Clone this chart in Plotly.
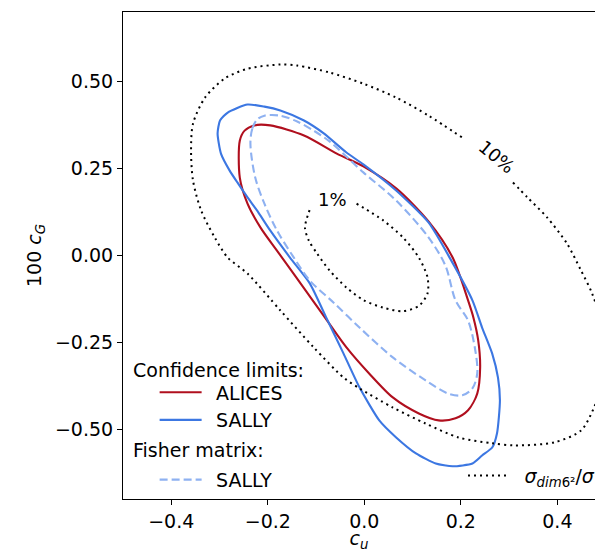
import plotly.graph_objects as go

# ---------------- data ----------------
# ALICES confidence limit contour: c_u vs 100 c_G
alices_cu = [-0.258, -0.248, -0.228, -0.195, -0.125, -0.057, -0.002, 0.066, 0.133, 0.183,
             0.215, 0.226, 0.236, 0.240, 0.234, 0.215, 0.189, 0.154, 0.113, 0.059,
             0.010, -0.037, -0.070, -0.107, -0.144, -0.181, -0.215, -0.242, -0.258, -0.258]
alices_cg = [0.330, 0.359, 0.374, 0.374, 0.345, 0.293, 0.256, 0.193, 0.098, -0.006,
             -0.129, -0.178, -0.244, -0.322, -0.397, -0.445, -0.468, -0.474, -0.454, -0.408,
             -0.339, -0.264, -0.201, -0.129, -0.057, 0.014, 0.080, 0.149, 0.224, 0.330]

# SALLY confidence limit contour
sally_cu = [-0.299, -0.283, -0.242, -0.207, -0.174, -0.125, -0.084, -0.037, -0.002, 0.066,
            0.133, 0.178, 0.224, 0.244, 0.265, 0.277, 0.281, 0.275, 0.265, 0.244,
            0.224, 0.183, 0.148, 0.107, 0.066, 0.031, -0.010, -0.043, -0.078, -0.113,
            -0.154, -0.195, -0.222, -0.242, -0.263, -0.279, -0.297, -0.304, -0.299]
sally_cg = [0.388, 0.411, 0.434, 0.428, 0.417, 0.388, 0.351, 0.296, 0.262, 0.187,
            0.095, -0.009, -0.129, -0.207, -0.282, -0.351, -0.417, -0.511, -0.552, -0.575,
            -0.598, -0.606, -0.598, -0.569, -0.523, -0.474, -0.379, -0.282, -0.181, -0.080,
            -0.006, 0.072, 0.129, 0.167, 0.210, 0.244, 0.293, 0.351, 0.388]

# SALLY Fisher-matrix contour
fisher_cu = [-0.236, -0.232, -0.222, -0.207, -0.174, -0.139, -0.105, -0.072, -0.002, 0.066,
             0.133, 0.168, 0.189, 0.215, 0.230, 0.234, 0.224, 0.203, 0.174, 0.127,
             0.059, -0.010, -0.064, -0.113, -0.146, -0.181, -0.207, -0.226, -0.236]
fisher_cg = [0.322, 0.365, 0.391, 0.402, 0.402, 0.385, 0.359, 0.328, 0.239, 0.158,
             0.052, -0.029, -0.129, -0.187, -0.273, -0.339, -0.382, -0.402, -0.397, -0.359,
             -0.293, -0.207, -0.135, -0.072, -0.006, 0.072, 0.149, 0.224, 0.322]

# sigma_dim6^2 / sigma contours (1 % and 10 %), broken where the labels sit
ratio1_cu = [-0.016, 0.039, 0.080, 0.113, 0.131, 0.131, 0.113, 0.080, 0.039, -0.002,
             -0.037, -0.072, -0.098, -0.115, -0.123, -0.113]
ratio1_cg = [0.149, 0.101, 0.052, -0.006, -0.063, -0.109, -0.145, -0.160, -0.150, -0.128,
             -0.092, -0.043, 0.006, 0.043, 0.080, 0.132]

ratio10_cu = [0.308, 0.338, 0.379, 0.420, 0.449, 0.472, 0.496, 0.501, 0.476, 0.449,
              0.394, 0.312, 0.265, 0.195, 0.127, 0.059, -0.010, -0.043, -0.105, -0.174,
              -0.242, -0.283, -0.310, -0.338, -0.355, -0.359, -0.355, -0.330, -0.289, -0.242,
              -0.174, -0.139, -0.072, -0.002, 0.066, 0.133, 0.203]
ratio10_cg = [0.210, 0.167, 0.109, 0.034, -0.043, -0.109, -0.216, -0.330, -0.437, -0.503,
              -0.537, -0.546, -0.540, -0.523, -0.483, -0.437, -0.382, -0.351, -0.264, -0.158,
              -0.052, -0.006, 0.052, 0.129, 0.216, 0.302, 0.379, 0.454, 0.509, 0.537,
              0.549, 0.546, 0.526, 0.494, 0.454, 0.402, 0.339]

contour_labels = ["1%", "10%"]
label_cu = [-0.066, 0.274]
label_cg = [0.161, 0.285]

legend_headers = ["Confidence limits:", "Fisher matrix:"]

x_tickvals = [-0.4, -0.2, 0.0, 0.2, 0.4]
x_ticktext = ["\u22120.4", "\u22120.2", "0.0", "0.2", "0.4"]
y_tickvals = [-0.50, -0.25, 0.00, 0.25, 0.50]
y_ticktext = ["\u22120.50", "\u22120.25", "0.00", "0.25", "0.50"]

# ---------------- styles ----------------
RED = "#B00F1E"
BLUE = "#3C77E2"
LIGHT = "#8EB1F1"
FONT = "DejaVu Sans"
FS = 19
GAP = "\u2002"  # small gap between legend line and label

fig = go.Figure()

fig.add_trace(go.Scatter(x=alices_cu, y=alices_cg, mode="lines", name=GAP + "ALICES",
                         line=dict(color=RED, width=2.1, shape="spline", smoothing=0.8),
                         legendgroup="cl", legend="legend"))
fig.add_trace(go.Scatter(x=sally_cu, y=sally_cg, mode="lines", name=GAP + "SALLY",
                         line=dict(color=BLUE, width=2.1, shape="spline", smoothing=0.6),
                         legendgroup="cl", legend="legend"))
fig.add_trace(go.Scatter(x=fisher_cu, y=fisher_cg, mode="lines", name=GAP + "SALLY",
                         line=dict(color=LIGHT, width=2.1, dash="8px,4px", shape="spline", smoothing=0.9),
                         legendgroup="fm", legend="legend"))
fig.add_trace(go.Scatter(x=ratio1_cu, y=ratio1_cg, mode="lines",
                         name=GAP + "<i>\u03c3</i><sub><i>dim</i>6\u00b2</sub>/<i>\u03c3</i>",
                         line=dict(color="black", width=2, dash="2px,4px", shape="spline", smoothing=0.8),
                         legend="legend2"))
fig.add_trace(go.Scatter(x=ratio10_cu, y=ratio10_cg, mode="lines", showlegend=False,
                         line=dict(color="black", width=2, dash="2px,4px", shape="spline", smoothing=0.8)))

for txt, lx, ly, ang in zip(contour_labels, label_cu, label_cg, [0, 40]):
    fig.add_annotation(x=lx, y=ly, text=txt, showarrow=False, textangle=ang,
                       font=dict(family=FONT, size=18, color="black"))

# legend group headers
for txt, hy in zip(legend_headers, [0.265, 0.1006]):
    fig.add_annotation(xref="paper", yref="paper", x=0.017, y=hy, xanchor="left",
                       yanchor="middle", text=txt, showarrow=False,
                       font=dict(family=FONT, size=FS, color="black"))

axis_common = dict(showline=True, linecolor="black", linewidth=1.1, ticks="outside",
                   ticklen=5, tickwidth=1.1, tickcolor="black", showgrid=False,
                   zeroline=False, tickfont=dict(family=FONT, size=FS, color="black"),
                   automargin=False)

fig.update_layout(
    width=600, height=552,
    margin=dict(l=123, r=0, t=12, b=53),
    paper_bgcolor="white", plot_bgcolor="white",
    font=dict(family=FONT, size=FS, color="black"),
    xaxis=dict(range=[-0.5, 0.478], tickvals=x_tickvals, ticktext=x_ticktext, mirror=True,
               title=dict(text="<i>c</i><sub><i>u</i></sub>", standoff=4,
                          font=dict(family=FONT, size=FS)), **axis_common),
    yaxis=dict(range=[-0.7, 0.7], tickvals=y_tickvals, ticktext=y_ticktext,
               title=dict(text="100 <i>c</i><sub><i>G</i></sub>", standoff=8,
                          font=dict(family=FONT, size=FS)), **axis_common),
    legend=dict(x=0.067, y=0.258, xanchor="left", yanchor="top", bgcolor="rgba(0,0,0,0)",
                font=dict(family=FONT, size=FS), traceorder="grouped", tracegroupgap=32,
                itemwidth=42),
    legend2=dict(x=0.721, y=0.087, xanchor="left", yanchor="top", bgcolor="rgba(0,0,0,0)",
                 font=dict(family=FONT, size=FS), itemwidth=42),
)

fig.write_html("out.html", config={"displayModeBar": False},
               post_script="document.body.style.margin='0px';")
